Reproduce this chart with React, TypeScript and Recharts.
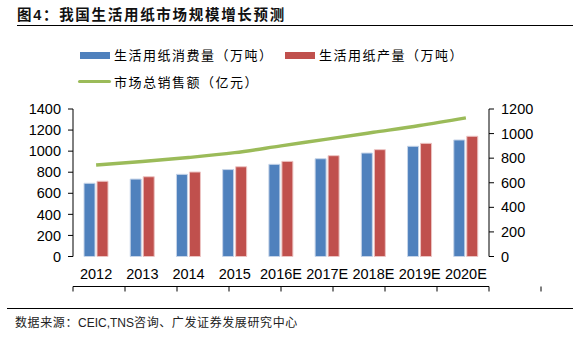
import React from 'react'
import {
  ComposedChart,
  Bar,
  Line,
  XAxis,
  YAxis,
} from 'recharts'

const categories = ['2012', '2013', '2014', '2015', '2016E', '2017E', '2018E', '2019E', '2020E']
const consumption = [695, 735, 780, 825, 875, 928, 982, 1046, 1106]
const production = [714, 757, 802, 852, 903, 957, 1014, 1074, 1141]
const marketSales = [745, 772, 805, 845, 900, 955, 1010, 1065, 1128]

const leftTicks = [0, 200, 400, 600, 800, 1000, 1200, 1400]
const rightTicks = [0, 200, 400, 600, 800, 1000, 1200]
const boundaryTicks = [0, 1, 2, 3, 4, 5, 6, 7, 8, 9]

const seriesNames = {
  consumption: '生活用纸消费量（万吨）',
  production: '生活用纸产量（万吨）',
  marketSales: '市场总销售额（亿元）',
}

const BLUE = '#4F81BD'
const RED = '#C0504D'
const GREEN = '#9BBB59'

const data = categories.map((name, i) => ({
  name,
  consumption: consumption[i],
  production: production[i],
  marketSales: marketSales[i],
}))

const cjk = '"Noto Sans CJK SC", sans-serif'
const latin = '"Liberation Sans", Arial, sans-serif'
const axisTick = { fontSize: 14.5, fill: '#000', fontFamily: latin }

const legendText: React.CSSProperties = {
  position: 'absolute',
  fontFamily: cjk,
  fontSize: 13,
  letterSpacing: 1.5,
  lineHeight: '16px',
  color: '#000',
  whiteSpace: 'nowrap',
}

export default function App() {
  return (
    <div style={{ position: 'fixed', left: 0, top: 0, width: 584, height: 337, background: '#fff', overflow: 'hidden' }}>
      <div
        style={{
          position: 'absolute', left: 17, top: 5, fontFamily: cjk, fontWeight: 700,
          fontSize: 14.5, letterSpacing: 1.7, lineHeight: '18px', color: '#111', whiteSpace: 'nowrap',
        }}
      >
        图<span style={{ fontFamily: latin }}>4</span>：我国生活用纸市场规模增长预测
      </div>
      <div style={{ position: 'absolute', left: 17, top: 25, width: 556, height: 1, background: '#000' }} />

      {/* legend */}
      <div style={{ position: 'absolute', left: 80, top: 52, width: 30, height: 7, background: BLUE }} />
      <div style={{ ...legendText, left: 114, top: 47 }}>{seriesNames.consumption}</div>
      <div style={{ position: 'absolute', left: 285, top: 52, width: 30, height: 7, background: RED }} />
      <div style={{ ...legendText, left: 319, top: 47 }}>{seriesNames.production}</div>
      <div style={{ position: 'absolute', left: 78, top: 80, width: 33, height: 3, background: GREEN, borderRadius: 2 }} />
      <div style={{ ...legendText, left: 114, top: 74 }}>{seriesNames.marketSales}</div>

      <div style={{ position: 'absolute', left: 0, top: 0 }}>
        <ComposedChart
          width={584}
          height={337}
          data={data}
          margin={{ top: 109, right: 0, bottom: 49.5, left: 0 }}
          barSize={11}
          barGap={2}
        >
          <XAxis
            xAxisId="bounds"
            type="number"
            domain={[0, 9]}
            ticks={boundaryTicks}
            interval={0}
            height={1}
            axisLine={{ stroke: '#000' }}
            tickLine={{ stroke: '#000' }}
            tickSize={5}
            tickFormatter={() => ''}
          />
          <XAxis
            dataKey="name"
            height={30}
            interval={0}
            axisLine={false}
            tickLine={false}
            tickSize={5}
            tickMargin={7}
            tick={axisTick}
          />
          <YAxis
            yAxisId="left"
            width={73}
            domain={[0, 1400]}
            ticks={leftTicks}
            interval={0}
            axisLine={{ stroke: '#000' }}
            tickLine={{ stroke: '#000' }}
            tickSize={5}
            tickMargin={7}
            tick={axisTick}
          />
          <YAxis
            yAxisId="right"
            orientation="right"
            width={95}
            domain={[0, 1200]}
            ticks={rightTicks}
            interval={0}
            axisLine={{ stroke: '#000' }}
            tickLine={{ stroke: '#000' }}
            tickSize={5}
            tickMargin={7}
            tick={axisTick}
          />
          <Bar
            yAxisId="left"
            dataKey="consumption"
            name={seriesNames.consumption}
            fill={BLUE}
            stroke="#c6d4e8"
            strokeWidth={1}
            isAnimationActive={false}
          />
          <Bar
            yAxisId="left"
            dataKey="production"
            name={seriesNames.production}
            fill={RED}
            stroke="#ecc4c3"
            strokeWidth={1}
            isAnimationActive={false}
          />
          <Line
            yAxisId="right"
            type="monotone"
            dataKey="marketSales"
            name={seriesNames.marketSales}
            stroke={GREEN}
            strokeWidth={3.5}
            dot={false}
            activeDot={false}
            isAnimationActive={false}
          />
        </ComposedChart>
      </div>

      <div style={{ position: 'absolute', left: 7, top: 308, width: 566, height: 1, background: '#000' }} />
      <div
        style={{
          position: 'absolute', left: 15, top: 314, fontFamily: cjk, fontSize: 12,
          letterSpacing: 0.6, lineHeight: '16px', color: '#222', whiteSpace: 'nowrap',
        }}
      >
        数据来源：<span style={{ fontFamily: latin, letterSpacing: 0 }}>CEIC,TNS</span>咨询、广发证券发展研究中心
      </div>
    </div>
  )
}
